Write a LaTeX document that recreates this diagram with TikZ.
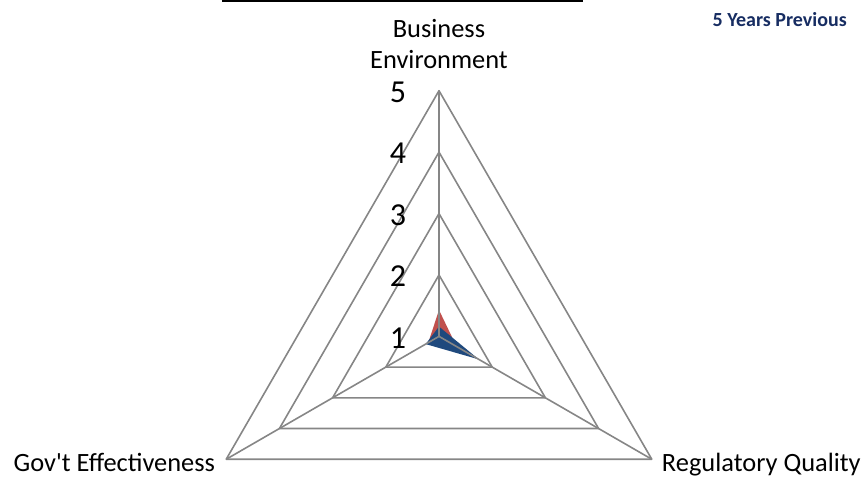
\documentclass[tikz,border=0pt]{standalone}
\usepackage{fontspec}
\setmainfont{Carlito}
\usetikzlibrary{positioning}
\definecolor{gridgray}{RGB}{134,134,134}
\definecolor{serred}{RGB}{192,80,77}
\definecolor{serblue}{RGB}{31,73,125}
\definecolor{titlenavy}{RGB}{23,45,98}
\edef\levelstep{61.425}
\tikzstyle{gridline}=[draw=gridgray,line width=1.6pt,line join=round]
\tikzstyle{ticklbl}=[font=\fontsize{32}{38}\selectfont,inner sep=0pt]
\tikzstyle{catlbl}=[font=\fontsize{26.4}{31}\selectfont,inner sep=0pt]

\begin{document}
\begin{tikzpicture}[x=1pt,y=1pt]
	\useasboundingbox (-439,-142.6) rectangle (424,336.4);
	% axis ends
	\coordinate (c) at (0,0);
	\coordinate (be) at (90:245.7);
	\coordinate (ge) at (210:245.7);
	\coordinate (rq) at (330:245.7);
	
	% series
	\fill[serred] (90:26.4) -- (210:12.3) -- (330:20.3) -- cycle;
	\fill[serblue] (90:9.8) -- (210:15.4) -- (330:46) -- cycle;
	
	% grid
	\foreach \k in {1,2,3}
		\draw[gridline] (90:{\k*\levelstep}) -- (210:{\k*\levelstep}) -- (330:{\k*\levelstep}) -- cycle;
	\draw[gridline] (be) -- (ge) -- (rq) -- cycle;
	\draw[gridline] (c) -- (be) (c) -- (ge) (c) -- (rq);
	
	\foreach \k in {1,...,5}
		\node[ticklbl] (t\k) at (-41,{(\k-1)*\levelstep-1.5}) {\k};
	
	\node[catlbl,align=center,above=21.5pt of be] (belbl) {Business\\Environment};
	\node[catlbl,anchor=base east] (gelbl) at ([xshift=-11pt,yshift=-12.4pt]ge) {Gov\textquotesingle t Effectiveness};
	\node[catlbl,anchor=base west] (rqlbl) at ([xshift=10pt,yshift=-12.4pt]rq) {Regulatory Quality};
	
	\node[font=\fontsize{20}{24}\selectfont\bfseries,text=titlenavy,inner sep=0pt,anchor=base east] (title) at (408,309.7) {5 Years Previous};
	\draw[line width=1.4pt] (-217,335.4) -- (144,335.4);
\end{tikzpicture}
\end{document}
